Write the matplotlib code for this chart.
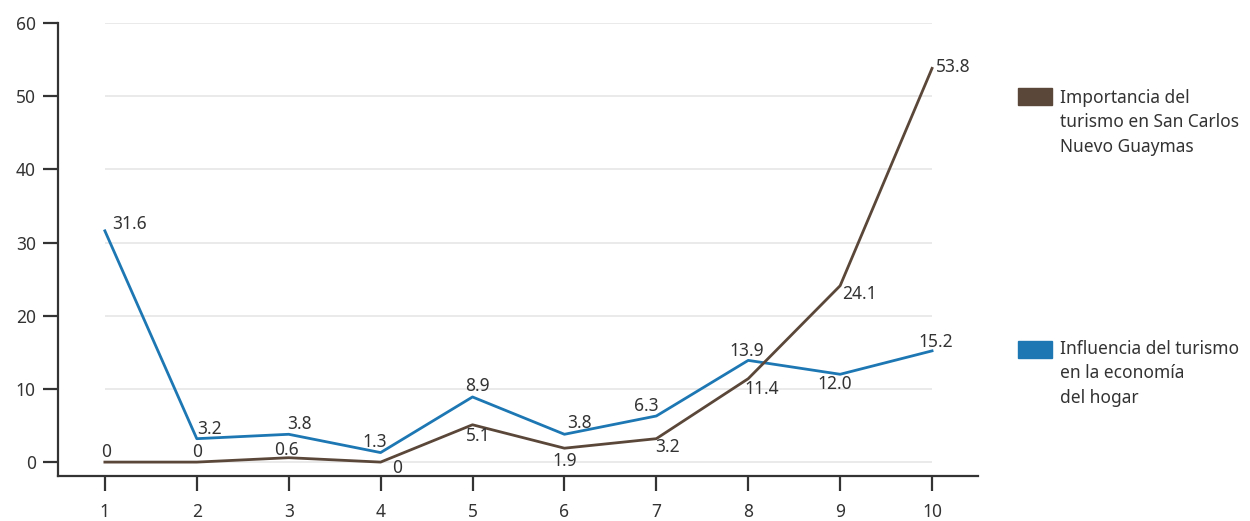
import matplotlib.pyplot as plt
from matplotlib.patches import Rectangle

plt.rcParams['font.family'] = ['Noto Sans', 'DejaVu Sans']

x = [1, 2, 3, 4, 5, 6, 7, 8, 9, 10]
importancia = [0, 0, 0.6, 0, 5.1, 1.9, 3.2, 11.4, 24.1, 53.8]
influencia = [31.6, 3.2, 3.8, 1.3, 8.9, 3.8, 6.3, 13.9, 12.0, 15.2]
imp_labels = ['0', '0', '0.6', '0', '5.1', '1.9', '3.2', '11.4', '24.1', '53.8']
inf_labels = ['31.6', '3.2', '3.8', '1.3', '8.9', '3.8', '6.3', '13.9', '12.0', '15.2']
leg_imp = 'Importancia del\nturismo en San Carlos\nNuevo Guaymas'
leg_inf = 'Influencia del turismo\nen la economía\ndel hogar'

# label offsets in pixels (dx, dy)
inf_off = [(25, 7), (13, 10), (11, 10), (-6, 11), (5, 11), (15, 11), (-10, 10), (-2, 9), (-5, -10), (4, 9)]
imp_off = [(1, 10), (0, 10), (-2, 8), (17, -6), (6, -11), (0, -13), (11, -8), (13, -10), (19, -8), (21, 1)]

brown = '#5b4739'
blue = '#1d77b3'
axc = '#333333'
fs = 12.5

fig = plt.figure(figsize=(12.5, 5.21), dpi=100)
ax = fig.add_axes([58 / 1250, 1 - 476 / 521, 920 / 1250, 453 / 521])

for g in range(0, 61, 10):
    ax.hlines(g, 1, 10, color='#e6e6e6', lw=1.2, zorder=0)

ax.plot(x, importancia, color=brown, lw=2, zorder=3)
ax.plot(x, influencia, color=blue, lw=2, zorder=2)

for xi, v, s, o in zip(x, influencia, inf_labels, inf_off):
    ax.annotate(s, (xi, v), xytext=o, textcoords='offset pixels',
                ha='center', va='center', fontsize=fs, color='#333333')
for xi, v, s, o in zip(x, importancia, imp_labels, imp_off):
    ax.annotate(s, (xi, v), xytext=o, textcoords='offset pixels',
                ha='center', va='center', fontsize=fs, color='#333333')

ax.set_xlim(0.49, 10.5)
ax.set_ylim(-1.9, 60)
ax.set_xticks(x)
ax.set_yticks(range(0, 61, 10))
ax.spines['top'].set_visible(False)
ax.spines['right'].set_visible(False)
ax.spines['left'].set_bounds(-1.9, 60)
for s in ['left', 'bottom']:
    ax.spines[s].set_color(axc)
    ax.spines[s].set_linewidth(1.6)
ax.tick_params(length=11, width=1.6, color=axc, labelsize=fs, labelcolor='#333333')
ax.tick_params(axis='x', pad=8.5)
ax.tick_params(axis='y', pad=5)

fig.patches.append(Rectangle((1018 / 1250, 1 - 105 / 521), 34 / 1250, 17 / 521,
                             transform=fig.transFigure, color=brown))
fig.patches.append(Rectangle((1018 / 1250, 1 - 358 / 521), 34 / 1250, 17 / 521,
                             transform=fig.transFigure, color=blue))
fig.text(1060 / 1250, 1 - 89 / 521, leg_imp, ha='left', va='top', fontsize=fs,
         color='#333333', linespacing=1.45)
fig.text(1060 / 1250, 1 - 340 / 521, leg_inf, ha='left', va='top', fontsize=fs,
         color='#333333', linespacing=1.45)

fig.savefig('out.png', dpi=100)
